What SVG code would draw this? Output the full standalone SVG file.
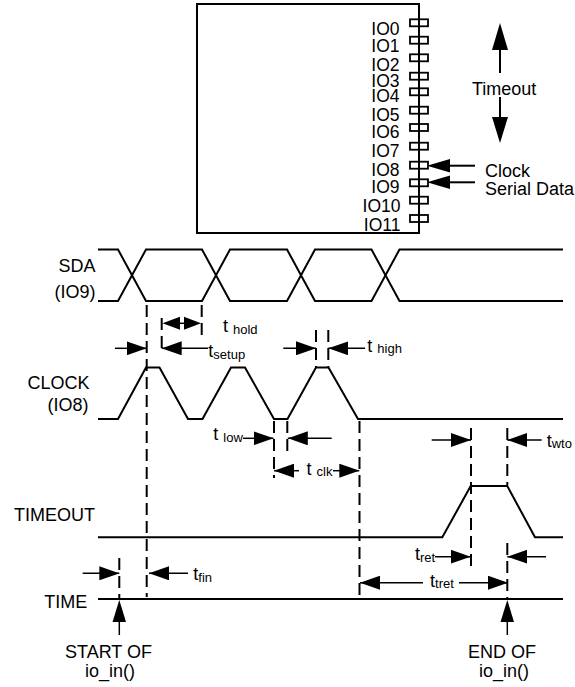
<svg xmlns="http://www.w3.org/2000/svg" width="575" height="687" viewBox="0 0 575 687">
<style>
text{font-family:"Liberation Sans",Arial,sans-serif;font-size:18px;fill:#000}
.io{font-size:17.5px}
.sub{font-size:13px}
.w{fill:none;stroke:#000;stroke-width:2;stroke-linejoin:miter}
.pin{fill:none;stroke:#000;stroke-width:1.8}
.d{fill:none;stroke:#000;stroke-width:2;stroke-dasharray:12 6}
.a{fill:none;stroke:#000;stroke-width:1.5}
.h{fill:#000;stroke:none}
</style>
<defs>
<marker id="ah" markerUnits="userSpaceOnUse" markerWidth="20" markerHeight="14" viewBox="0 0 20 14" refX="20" refY="7" orient="auto">
<path d="M0,0 L20,7 L0,14 z" fill="#000"/>
</marker>
</defs>
<rect width="575" height="687" fill="#fff"/>

<g id="chip">
<rect x="197" y="4" width="222" height="229" fill="#fff" stroke="#000" stroke-width="2"/>
<g>
<rect class="pin" x="410" y="19.3" width="18" height="7"/>
<rect class="pin" x="410" y="36.7" width="18" height="7"/>
<rect class="pin" x="410" y="54.3" width="18" height="7"/>
<rect class="pin" x="410" y="72.7" width="18" height="7"/>
<rect class="pin" x="410" y="88.3" width="18" height="7"/>
<rect class="pin" x="410" y="106.7" width="18" height="7"/>
<rect class="pin" x="410" y="124" width="18" height="7"/>
<rect class="pin" x="410" y="142.7" width="18" height="7"/>
<rect class="pin" x="410" y="161.7" width="18" height="7"/>
<rect class="pin" x="410" y="179.3" width="18" height="7"/>
<rect class="pin" x="410" y="196.7" width="18" height="7"/>
<rect class="pin" x="410" y="215" width="18" height="7"/>
</g>
<g text-anchor="end" class="io">
<text class="io" x="399.5" y="35">IO0</text>
<text class="io" x="399.5" y="52.3">IO1</text>
<text class="io" x="399.5" y="70.7">IO2</text>
<text class="io" x="399.5" y="87.3">IO3</text>
<text class="io" x="399.5" y="102">IO4</text>
<text class="io" x="399.5" y="120.7">IO5</text>
<text class="io" x="399.5" y="138.3">IO6</text>
<text class="io" x="399.5" y="156.7">IO7</text>
<text class="io" x="399.5" y="175.7">IO8</text>
<text class="io" x="399.5" y="193.3">IO9</text>
<text class="io" x="400.5" y="212.3">IO10</text>
<text class="io" x="400.5" y="230.7">IO11</text>
</g>
</g>

<g id="timeout-legend">
<line x1="500" y1="49" x2="500" y2="73" stroke="#000" stroke-width="2"/>
<polygon class="h" points="500,23 492,50 508,50"/>
<line x1="500" y1="97" x2="500" y2="118" stroke="#000" stroke-width="2"/>
<polygon class="h" points="492,117 508,117 500,143"/>
<text x="472" y="95">Timeout</text>
</g>

<g id="clock-legend">
<line x1="449" y1="165.7" x2="475" y2="165.7" stroke="#000" stroke-width="2"/>
<polygon class="h" points="427,165.7 450,159 450,172.4"/>
<text x="485" y="176.7">Clock</text>
</g>
<g id="serial-legend">
<line x1="449" y1="182.3" x2="475" y2="182.3" stroke="#000" stroke-width="2"/>
<polygon class="h" points="427,182.3 450,175.6 450,189"/>
<text x="485" y="195">Serial Data</text>
</g>

<g id="sda">
<text x="95.5" y="271.7" text-anchor="end">SDA</text>
<text x="95.5" y="297.5" text-anchor="end">(IO9)</text>
<polyline class="w" points="98,249.5 118,249.5 146,301 202,301 230,249.5 287,249.5 315,301 371.5,301 399.5,249.5 563,249.5"/>
<polyline class="w" points="98,301 118,301 146,249.5 202,249.5 230,301 287,301 315,249.5 371.5,249.5 399.5,301 563,301"/>
</g>

<g id="clock">
<text x="89.5" y="389.3" text-anchor="end">CLOCK</text>
<text x="88.5" y="411" text-anchor="end">(IO8)</text>
<polyline class="w" points="98,419 118,419 146,367.5 159.5,367.5 188,419 202.5,419 231,367.5 245,367.5 274,419 287.5,419 316,367.5 328.5,367.5 358,419 563,419"/>
</g>

<g id="timeout">
<text x="95" y="520.7" text-anchor="end">TIMEOUT</text>
<polyline class="w" points="98,537.3 442.3,537.3 470.7,486 507.3,486 535,537.3 563,537.3"/>
</g>

<g id="time">
<text x="87.3" y="608.3" text-anchor="end">TIME</text>
<line class="w" x1="98" y1="599" x2="563" y2="599"/>
</g>

<g id="start">
<line class="a" x1="119.3" y1="635" x2="119.3" y2="620"/>
<polygon class="h" points="119.3,600 112.5,622 126,622"/>
<text x="108.5" y="658.3" text-anchor="middle">START OF</text>
<text x="110" y="677" text-anchor="middle">io_in()</text>
</g>
<g id="end">
<line class="a" x1="507.3" y1="635" x2="507.3" y2="620"/>
<polygon class="h" points="507.3,600 500.5,622 514,622"/>
<text x="502" y="658.3" text-anchor="middle">END OF</text>
<text x="504" y="677" text-anchor="middle">io_in()</text>
</g>

<g id="connectors">
<g>
<line class="d" x1="146.7" y1="305" x2="146.7" y2="597"/>
<line class="d" x1="201.7" y1="305" x2="201.7" y2="338"/>
<line class="d" x1="161.7" y1="318" x2="161.7" y2="353"/>
<line class="d" x1="316" y1="330" x2="316" y2="367"/>
<line class="d" x1="328.3" y1="330" x2="328.3" y2="367"/>
<line class="d" x1="274" y1="421" x2="274" y2="478"/>
<line class="d" x1="287.3" y1="421" x2="287.3" y2="457"/>
<line class="d" x1="359.5" y1="421" x2="359.5" y2="598"/>
<line class="d" x1="471" y1="428" x2="471" y2="572"/>
<line class="d" x1="507.3" y1="428" x2="507.3" y2="485"/>
<line class="d" x1="507.3" y1="543" x2="507.3" y2="598"/>
<line class="d" x1="119.3" y1="558" x2="119.3" y2="598"/>
</g>
<g>
<line class="a" x1="180" y1="323.3" x2="184" y2="323.3"/>
<polygon class="h" points="162.5,323.3 180,316.8 180,329.8"/>
<polygon class="h" points="201,323.3 184,316.8 184,329.8"/>
<line class="a" x1="115" y1="348.3" x2="146.7" y2="348.3" marker-end="url(#ah)"/>
<line class="a" x1="208" y1="348.3" x2="161.7" y2="348.3" marker-end="url(#ah)"/>
<line class="a" x1="283.3" y1="348.3" x2="316" y2="348.3" marker-end="url(#ah)"/>
<line class="a" x1="365" y1="348.3" x2="328.3" y2="348.3" marker-end="url(#ah)"/>
<line class="a" x1="243" y1="438.3" x2="273.5" y2="438.3" marker-end="url(#ah)"/>
<line class="a" x1="331.7" y1="438.3" x2="287.8" y2="438.3" marker-end="url(#ah)"/>
<line class="a" x1="299" y1="470.7" x2="274" y2="470.7" marker-end="url(#ah)"/>
<line class="a" x1="333" y1="470.7" x2="359.3" y2="470.7" marker-end="url(#ah)"/>
<line class="a" x1="431.7" y1="440" x2="471" y2="440" marker-end="url(#ah)"/>
<line class="a" x1="541.7" y1="440" x2="507.3" y2="440" marker-end="url(#ah)"/>
<line class="a" x1="435" y1="556.7" x2="470.7" y2="556.7" marker-end="url(#ah)"/>
<line class="a" x1="546" y1="556.7" x2="507.3" y2="556.7" marker-end="url(#ah)"/>
<line class="a" x1="423" y1="582.7" x2="360" y2="582.7" marker-end="url(#ah)"/>
<line class="a" x1="459" y1="582.7" x2="508" y2="582.7" marker-end="url(#ah)"/>
<line class="a" x1="82.7" y1="573.3" x2="119.3" y2="573.3" marker-end="url(#ah)"/>
<line class="a" x1="188" y1="573.3" x2="149" y2="573.3" marker-end="url(#ah)"/>
</g>
<g id="labels">
<text x="223" y="332">t <tspan class="sub" dy="1.5">hold</tspan></text>
<text x="208.3" y="357">t<tspan class="sub" dy="1.5">setup</tspan></text>
<text x="367.3" y="351.5">t <tspan class="sub" dy="1.5">high</tspan></text>
<text x="213.3" y="440">t <tspan class="sub" dy="1.5">low</tspan></text>
<text x="306.5" y="474.5">t <tspan class="sub" dy="1.5">clk</tspan></text>
<text x="546.7" y="446.7">t<tspan class="sub" dy="1.5">wto</tspan></text>
<text x="415" y="560">t<tspan class="sub" dy="1.5">ret</tspan></text>
<text x="430" y="586.7">t<tspan class="sub" dy="1.5">tret</tspan></text>
<text x="193.3" y="580">t<tspan class="sub" dy="1.5">fin</tspan></text>
</g>
</g>
</svg>
